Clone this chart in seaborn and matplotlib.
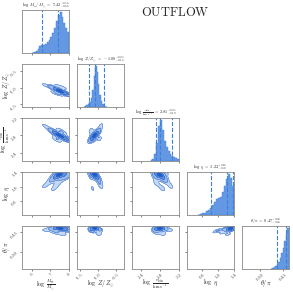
import numpy as np
import matplotlib
matplotlib.use("Agg")
import matplotlib.pyplot as plt
import seaborn as sns
from matplotlib.colors import LinearSegmentedColormap

# parameter names / titles
labels = [r"$\log\ \frac{M_{\rm w}}{M_{\odot}}$", r"$\log\ Z/Z_{\odot}$",
          r"$\log\ \frac{v_{\rm kin}}{\rm km\ s^{-1}}$", r"$\log\ \eta$", r"$\theta/\pi$"]
title_labels = [r"$\log\ M_{\rm w}/M_{\odot}$", r"$\log\ Z/Z_{\odot}$",
                r"$\log\ \frac{v_{\rm kin}}{\rm km\ s^{-1}}$", r"$\log\ \eta$", r"$\theta/\pi$"]
medians = ["7.42^{+0.56}_{-0.88}", "-1.08^{+0.24}_{-0.16}", "2.81^{+0.25}_{-0.10}",
           "1.22^{+0.16}_{-0.40}", "0.47^{+0.02}_{-0.06}"]
quantiles = [[6.54, 7.42, 7.98], [-1.24, -1.08, -0.84], [2.71, 2.81, 3.06],
             [0.825, 1.22, 1.375], [0.41, 0.47, 0.49]]
limits = [(5.46, 8.0), (-1.58, -0.28), (2.21, 3.2), (0.225, 1.4), (0.18, 0.49)]
ticks = [[6, 7, 8], [-1.5, -1.0, -0.5], [2.4, 2.8, 3.2], [0.6, 1.0, 1.4], [0.30, 0.45]]
tick_labels = [["6", "7", "8"], ["-1.5", "-1.0", "-0.5"], ["2.4", "2.8", "3.2"],
               ["0.6", "1.0", "1.4"], ["0.30", "0.45"]]

# 1D marginal histograms (bin start, bin width, relative heights)
m_hist = (6.0, 0.1, [0.0, 0.02, 0.05, 0.10, 0.16, 0.19, 0.20, 0.22, 0.26, 0.32,
                     0.40, 0.50, 0.62, 0.78, 0.92, 1.00, 0.88, 0.74, 0.62, 0.52])
z_hist = (-1.40, 0.04, [0.01, 0.02, 0.04, 0.07, 0.12, 0.22, 0.42, 0.75, 1.0, 0.85,
                        0.55, 0.30, 0.15, 0.07, 0.03, 0.01])
v_hist = (2.60, 0.04, [0.02, 0.06, 0.18, 0.45, 0.85, 1.0, 0.75, 0.5, 0.35, 0.25,
                       0.18, 0.13, 0.10, 0.07, 0.05])
eta_hist = (0.50, 0.05, [0.01, 0.02, 0.04, 0.06, 0.09, 0.13, 0.18, 0.24, 0.32, 0.40,
                         0.42, 0.45, 0.55, 0.70, 0.88, 1.0, 0.90, 0.70])
theta_hist = (0.37, 0.01, [0.01, 0.02, 0.04, 0.07, 0.12, 0.18, 0.27, 0.38, 0.52,
                           0.68, 0.85, 1.0])
hists = [m_hist, z_hist, v_hist, eta_hist, theta_hist]

# anchor points of the joint posterior
anc_m = [7.45, 7.75, 7.95, 7.10, 6.70, 7.40, 7.50, 7.20, 7.70, 7.30]
anc_z = [-1.08, -1.16, -1.20, -0.98, -0.92, -0.95, -1.20, -1.15, -1.00, -1.10]
anc_v = [2.81, 2.74, 2.70, 2.90, 3.02, 2.72, 2.92, 2.85, 2.86, 2.70]
anc_eta = [1.32, 1.36, 1.30, 1.20, 1.02, 1.10, 1.38, 0.95, 1.25, 1.38]
anc_theta = [0.475, 0.47, 0.46, 0.47, 0.46, 0.44, 0.49, 0.45, 0.43, 0.50]
anc_w = [6, 3, 2, 2, 1, 1, 1, 1, 1, 1]
anchors = [anc_m, anc_z, anc_v, anc_eta, anc_theta]

blue = "#3d7fdc"
cmap = LinearSegmentedColormap.from_list("b", ["#cfdff6", "#1c5cc8"])
levels = [0.13, 0.32, 0.6, 0.88, 0.97, 1.0]

sns.set_theme(style="ticks")
plt.rcParams["mathtext.fontset"] = "cm"
plt.rcParams["font.family"] = ["DejaVu Serif"]

fig = plt.figure(figsize=(2.93, 2.92), dpi=100)
W, H = 293.0, 292.0
n = 5
for i in range(n):          # row
    for j in range(i + 1):  # column
        left = 22 + 55 * j
        top = 10 + 54 * i
        ax = fig.add_axes([left / W, 1 - (top + 43) / H, 47 / W, 43 / H])
        if i == j:
            start, step, heights = hists[i]
            edges = [start + step * k for k in range(len(heights) + 1)]
            centers = [start + step * (k + 0.5) for k in range(len(heights))]
            sns.histplot(x=centers, weights=heights, bins=edges, element="step",
                         fill=True, color=blue, alpha=0.8, linewidth=0.3, ax=ax)
            for q in quantiles[i]:
                ax.axvline(q, color=blue, ls="--", lw=0.8)
            ax.set_ylim(0, 1.05)
            ax.set_yticks([])
            ax.set_ylabel("")
            ax.set_title(title_labels[i] + r"$\ =\ " + medians[i] + "$",
                         fontsize=3.1, pad=0.3)
        else:
            sns.kdeplot(x=anchors[j], y=anchors[i], weights=anc_w, fill=True,
                        levels=levels, cmap=cmap, bw_adjust=0.8, ax=ax)
            sns.kdeplot(x=anchors[j], y=anchors[i], weights=anc_w, fill=False,
                        levels=levels[:-1], color="#1c5cc8",
                        linewidths=0.3, bw_adjust=0.8, ax=ax)
            ax.set_ylim(limits[i])
            ax.set_yticks(ticks[i])
            if j == 0:
                ax.set_yticklabels(tick_labels[i], rotation=45, fontsize=3)
                ax.set_ylabel(labels[i], fontsize=4.5)
                ax.yaxis.set_label_coords(-0.21, 0.5)
            else:
                ax.set_yticklabels([])
                ax.set_ylabel("")
        ax.set_xlim(limits[j])
        ax.set_xticks(ticks[j])
        if i == n - 1:
            ax.set_xticklabels(tick_labels[j], rotation=45, fontsize=3)
            ax.set_xlabel(labels[j], fontsize=4.5)
            ax.xaxis.set_label_coords(0.5, -0.2)
        else:
            ax.set_xticklabels([])
            ax.set_xlabel("")
        ax.tick_params(length=1.5, width=0.5, pad=1, colors="#555555")
        for s in ax.spines.values():
            s.set_linewidth(0.6)
            s.set_color("#888888")

fig.text(175 / W, 1 - 13 / H, r"$\mathrm{OUTFLOW}$", fontsize=9, ha="center", va="center")
fig.savefig("out.png", dpi=100)
